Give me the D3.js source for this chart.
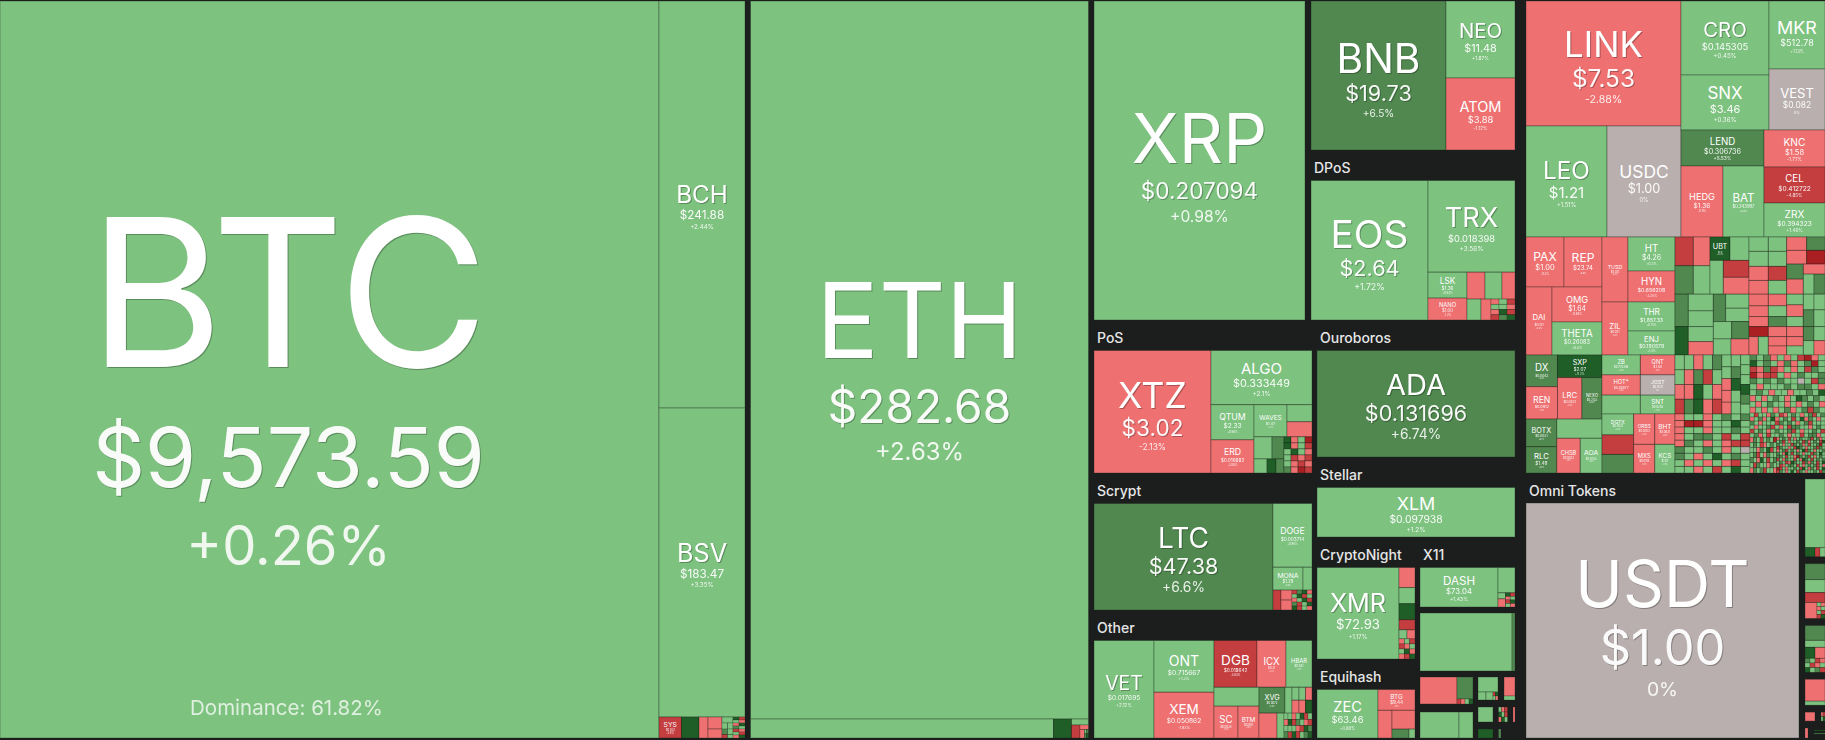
<!DOCTYPE html>
<html lang="en">
<head>
<meta charset="utf-8">
<title>Crypto market treemap</title>
<script src="https://cdn.jsdelivr.net/npm/d3@7/dist/d3.min.js"></script>
<style>
html,body{margin:0;padding:0;background:#1c1e1e;overflow:hidden}
svg{display:block}
text{font-family:"Inter","Noto Sans",sans-serif;fill:#fff;text-anchor:middle}
.title{text-anchor:start;fill:#e6e6e6;font-size:14px;font-weight:500}
.big{filter:drop-shadow(1px 1px 0 rgba(0,0,0,.28))}
</style>
</head>
<body>
<svg id="chart" width="1825" height="740"></svg>
<script>
// ---------- labelled coins ----------
const coinSymbols = ['BTC','BCH','BSV','SYS','ETH','XRP','BNB','NEO','ATOM','EOS','TRX','LSK','NANO','XTZ','ALGO','QTUM','WAVES','ERD','ADA','XLM','LTC','DOGE','MONA','XMR','DASH','ZEC','BTG','VET','ONT','XEM','DGB','ICX','HBAR','SC','BTM','XVG','LINK','CRO','MKR','SNX','VEST','LEO','USDC','LEND','KNC','CEL','HEDG','BAT','ZRX','PAX','REP','TUSD','DAI','OMG','THETA','ZIL','HT','HYN','THR','ENJ','UBT','DX','SXP','REN','LRC','NEXO','BOTX','RLC','CHSB','AOA','ZB','QNT','HOT*','JOST','SNT','DGTX','ORBS','BHT','MXS','KCS','USDT'];
const coinPrices = [9573.59,241.88,183.47,0.031,282.68,0.207094,19.73,11.48,3.88,2.64,0.018398,1.36,1.00,3.02,0.333449,2.33,1.47,0.016882,0.131696,0.097938,47.38,0.003714,1.29,72.93,73.04,63.46,9.44,0.017695,0.715667,0.050862,0.018642,0.31,0.041,0.0034,0.091,0.0072,7.53,0.145305,512.78,3.46,0.082,1.21,1.00,0.306736,1.58,0.412722,1.36,0.243997,0.394323,1.00,23.74,1.00,1.01,1.64,0.26083,0.021,4.26,0.656208,1857.33,0.190579,0.31,0.0042,2.07,0.0912,0.0421,0.2133,0.0031,1.49,0.0922,0.0143,0.774358,7.48,0.00077,0.0311,0.0293,0.0521,0.0203,0.0631,0.0118,1.07,1.00];
const coinChanges = [0.26,2.44,3.35,-4.6,2.63,0.98,6.5,1.87,-1.12,1.72,3.56,0.94,-1.2,-2.13,2.1,0.98,1.4,-3.08,6.74,1.2,6.6,0.96,0.8,1.17,1.43,0.88,-1.5,2.12,1.3,-1.93,-4.84,-2.2,1.1,-1.9,-1.4,5.8,-2.88,0.45,1.13,0.36,0,1.51,0,5.53,-1.77,-4.85,-0.9,0.8,1.46,-0.3,-0.6,-0.4,-0.2,-0.68,0.8,-1.6,0.2,-3.25,0.75,1.4,12.4,6.1,11.2,-1.5,-2.3,6.3,6.2,5.8,-1.9,1.3,1.2,-1.1,-1.4,0,1.1,1.6,-2.4,-2.6,-1.3,1.5,0];

// change stored for cells too small to carry a label, by colour reading
const cellChanges = {x:-8, r:-5, p:-2, n:0, g:1, m:6, d:11};
const changeBreaks = [-6,-4,-0.001,0.001,5,9];
const changeColors = ['#a91f22','#c43d3f','#ee7071','#b9afae','#7dc27f','#50884f','#1f5e27'];

// ---------- label type sizes [symbol, price, change] ----------
const labelSizes = {BTC:[212,87.7,59],BCH:[25,12.5,6.8],BSV:[26,12.5,6.8],SYS:[7,3,3],ETH:[107,49,26],XRP:[71,24,17],BNB:[42,23,11],NEO:[21,11.5,5.3],ATOM:[15,10,5],EOS:[40,23,9.5],TRX:[28,10,7],LSK:[8.5,5,3],NANO:[6,4.5,3],XTZ:[37,24,9],ALGO:[15.5,11.5,7],QTUM:[9,7,3],WAVES:[6.6,4,2],ERD:[9,5,3],ADA:[30,23,15],XLM:[18.5,11,7],LTC:[29,23,15],DOGE:[9,5,3],MONA:[7,4.5,2],XMR:[26,14,6.3],DASH:[12,8.3,5.5],ZEC:[15,10,4.5],BTG:[6.5,5,2],VET:[20,7,5],ONT:[14.5,7,4],XEM:[14,7,4],DGB:[14,5,3],ICX:[10,3,2],HBAR:[6,3,2],SC:[10,3,2],BTM:[6.5,3,2],XVG:[7.5,3,2],LINK:[36,26,11.5],CRO:[21,10,6.7],MKR:[18.5,9.6,4.5],SNX:[17.5,11.7,6.7],VEST:[13.5,9,4],LEO:[25,16,6.2],USDC:[18,13.5,6],LEND:[10,7.6,5.3],KNC:[10.5,8,5],CEL:[10,7,5],HEDG:[9.5,7,3],BAT:[12,4.5,2.5],ZRX:[10.5,7,5],PAX:[12.5,8,3],REP:[12.5,6.5,2.5],TUSD:[5.5,3.5,2],DAI:[8,4,2.5],OMG:[9.5,7.3,3],THETA:[10,6,3.5],ZIL:[8,3,2],HT:[10,7.4,3.5],HYN:[10,5.7,3.5],THR:[8.5,5.5,3],ENJ:[8,5.5,3],UBT:[7.5,2,2],DX:[10,3.5,2],SXP:[7.5,5,3],REN:[9,4,2],LRC:[8,3.5,2],NEXO:[4.5,3,2],BOTX:[7.5,3.5,2],RLC:[8,5,2],CHSB:[5.8,3,2],AOA:[7,3,2],ZB:[6,3,2],QNT:[5.8,3.5,2],'HOT*':[6,3.5,2],JOST:[5.4,3,2],SNT:[6.5,3,2],DGTX:[5.2,3,2],ORBS:[5,3,2],BHT:[6.7,3,2],MXS:[6,3,2],KCS:[6.5,3,2],USDT:[66,52,21]};
const typeScale = [0.97,0.94,0.92];
const labelShift = {BTC:-41};

// ---------- nesting of the market, as relative shares ----------
// H/V = side by side / stacked (number = gap); T = titled group; R/C = rows/columns of small coins
const sha256Block = ['H',750.5,['BTC',659],['V',86,['BCH',407],['BSV',309],['H',21,['SYS',22.5],['d',17.5],['p',9],['V',14,['p',12],['p',9]],['V',11,['g',6],['H',6,['g',1],['g',1]],['H',5.5,['m',1],['g',1]],['H',3.5,['r',1],['g',1]]],['R',12,'dr','gp','pd','mg','rp','gr','pd']]]];
const ethashBlock = ['V',343.5,['ETH',718],['H',19,['g',303],['d',18],['V',17,['g',6],['H',13,['r',8.5],['V',8.5,['p',4.5],['H',8.5,['p',4.5],['R',4,'gm','md']]]]]]];

const dposBlock = ['H',1,['EOS',117],['V',87,['TRX',92],['H',48,['V',39,['LSK',26],['NANO',22]],['V',48,['H',27,['p',18],['g',17],['p',13]],['H',21,['g',14],['p',10],['R',24,'pgr','ggp','pdr','rmd']]]]]];
const topLeftBlock = ['H6',319,['XRP',217],['V',210,['H',149,['BNB',135],['V',69,['NEO',77],['ATOM',72]]],['T','DPoS',170,dposBlock]]];

const posBlock = ['H',1,['XTZ',117],['V',101,['ALGO',54],['H',68,['V',43,['QTUM',35],['ERD',33]],['V',58,['H',32,['WAVES',33],['V',25,['g',17],['p',15]]],['H',36,['V',30,['H',22,['g',18],['m',12]],['H',14,['g',13],['d',9],['m',8]]],['R',28,'dpgx','dpgr','gdgp','grpr','gprp','mpxr']]]]]];
const scryptBlock = ['H',1,['LTC',179],['V',39,['DOGE',64],['H',23,['MONA',30],['g',9]],['H',20,['r',8],['V',11,['p',1],['p',1]],['R',20,'rmdp','gdrg','pgdr','mrgd','drgp']]]];
const otherBlock = ['H',1,['VET',60],['V',60,['ONT',52],['XEM',46]],['V',98,['H',47,['DGB',43],['ICX',29],['HBAR',26]],['H',51,['V',45,['g',19],['H',32,['SC',24],['BTM',21]]],['V',53,['H',26,['XVG',26],['g',7],['V',7,['g',1],['p',1]],['V',13,['H',1,['g',1],['p',1]],['H',1,['p',1],['d',1]]]],['H',25,['p',18],['g',7],['C',28,'gpgm','gdgr','prgd','gmpr','dgrg','rpdm','grmd']]]]]];
const leftColumn = ['V',223,['T','PoS',153,posBlock],['T','Scrypt',137,scryptBlock],['T','Other',128,otherBlock]];

const cryptoNightBlock = ['H',1,['XMR',82],['V',16,['p',20],['g',16],['d',16],['r',10],['H',9,['g',1],['p',1]],['R',20,'pgr','rpg','gdp','prd']]];
const equihashBlock = ['H',1,['ZEC',61],['V',37,['BTG',21],['H',28,['p',14],['V',23,['p',19],['H',9,['m',17],['g',6]]]]]];
const x11Block = ['H',1,['DASH',78],['V',17,['g',25],['H',14,['V',7.5,['g',6],['p',8]],['R',9.5,'dr','pg','rd','gp']]]];
const lowerRightBlock = ['H5',67,['V8',58,['H',35,['p',37],['V',16,['m',22],['R',5,'rpgd']]],['H',34,['g',39],['g',14]]],['V7',42,['H6',30,['V',26,['g',15],['H',8,['g',8],['g',7],['R',5,'rd','gp']]],['V',17,['p',19],['g',4]]],['H5.5',22,['g',20.5],['R',14.5,'gpr','dgr','pdg'],['p',7.5]],['H5.5',16,['d',20.5],['m',8],['k',14]]]];
const midColumn = ['V',203,['T','Ouroboros',137,['ADA',1]],['T','Stellar',80,['XLM',1]],['H5',201,['V',103,['T','CryptoNight',122,cryptoNightBlock],['T','Equihash',79,equihashBlock]],['V6',100,['T','X11',76,x11Block],['H',64,['g',92],['m',3]],lowerRightBlock]]];

const erc20Top = ['H',236,['V',155,['LINK',125],['H',111,['LEO',81],['USDC',74]]],['V',144,['H',129,['V',88,['CRO',74],['SNX',55]],['V',56,['MKR',68],['VEST',61]]],['H',107,['V',83,['LEND',36],['H',71,['HEDG',42],['BAT',41]]],['V',61,['KNC',37],['CEL',36],['ZRX',34]]]]];

const midCapsA = ['V',74,['H',171,['V',105,['H',86,['r',55],['p',50]],['H',85,['m',55],['g',50]]],['V',117,['H',70,['UBT',60],['g',57]],['H',101,['g',40],['V',77,['r',1],['p',1]]]]],['H',182,['V',40,['m',97],['d',85]],['V',75,['g',50],['g',47],['g',45],['p',40]],['V',107,['H',82,['m',37],['V',70,['g',42],['g',40]]],['H',52,['g',55],['m',52]],['H',48,['g',53],['p',54]]]]];
const midCapsB = ['H',76,['V',113,['H',43,['g',58],['g',55]],['H',45,['g',58],['g',55]],['H',42,['p',58],['r',55]],['H',41,['p',58],['g',55]],['H',35,['p',58],['p',55]],['H',32,['p',58],['g',55]],['H',30,['p',58],['m',55]],['H',30,['x',58],['p',55]],['H',55,['H',58,['p',28],['g',30]],['V',55,['p',28],['p',27]]]],['V',115,['H',40,['p',60],['m',55]],['H',41,['p',60],['x',55]],['H',90,['V',50,['m',45],['p',45]],['V',65,['p',30],['H',60,['g',32],['m',33]]]],['H',182,['V',50,['g',32],['p',35],['g',30],['p',30],['p',28],['g',27]],['V',32,['g',47],['m',50],['m',42],['g',43]],['V',33,['g',47],['g',50],['g',42],['p',43]]]]];
const erc20Mid = ['H',118,['V',76,['H',50,['PAX',38],['REP',38]],['H',68,['DAI',26],['V',50,['OMG',35],['THETA',33]]]],['V',26,['TUSD',65],['ZIL',53]],['V',47,['HT',34],['HYN',31],['THR',29],['ENJ',24]],['H',150,midCapsA,midCapsB]];

const smallCapsM1 = ['C',175,'ggpr','gppm','pmdd','grgp','mgpr','ggppp','gmdgg','gggdmg'];
const smallCapsM2 = ['R',175,'pggpgmgm','pxxpggdg','pggpggmg','pgmmgrgr','pmgpgprr','mggmgpgn','mgpgdgmg','gpgpgprg','ggpgrgdg'];
const smallCapsN1 = ['R',172,'mgmpgpgrxpg','dgmgpmpgmxg','rpmrpgpgrmg','xprrgpgmggm','mgmgmggngrm','gpgggmgmmgp','gmgpggpggmgd','pgpgmgpgdmgmg','gpgmggpgpgmgp','pgpgpgmpgmrmg'];
const smallCapsN2a = ['R',72,
 'grggpmgrpgmgpgmrgm','pgmpgdpgmgrgdpmgpg','mgpgggrmgmgpgmrggg','gpggmrgpgrmmggpgmg',
 'rgmgpgmggmrgpggmgr','gmpgrggmgpggrgmmpg'];
const smallCapsN2b = ['R',80,'pmgrgmgx','gmgrpgmg','ggpmgdrg','gmrgpmgg','mgpdgrgm','grmggpmg','pmgmrggp'];
const smallCapsN2c = ['R',145,
 'pgmgrgpgmggmrgmpg','gmrgpggmgrmpgmgrd','mgpggrmgmpgrggmxg','rmggpgrdmgpggmrmg',
 'pgmrgmgpgdrmgpggm','mgpdgrgmgpggrmgdg','mmgrggpxmgmrgpgmg','rgpmggrgpdmgrgmgm',
 'gmgrpdmggrmpmgrgd','grpgmmgrgpgmgmrgp','xrgpggmgrdgpmgrgd','rmgpgdgrmgpggmgrm'];
const smallCapsN2 = ['V',178,smallCapsN2a,['H',106,smallCapsN2b,smallCapsN2c]];
const smallCapsBand = ['H',150,['V',75,smallCapsM1,smallCapsM2],['V',75,smallCapsN1,smallCapsN2]];

const erc20Low = ['H',118,['V',76,['H',190,['V',94,['DX',94],['REN',96]],['V',133,['SXP',67],['H',123,['LRC',73],['NEXO',60]]]],['H',160,['V',92,['BOTX',82],['RLC',78]],['V',135,['g',57],['H',103,['CHSB',70],['AOA',65]]]]],['V',73,['H',59,['ZB',114],['QNT',103]],['H',60,['HOT*',114],['JOST',103]],['H',56,['g',114],['SNT',103]],['H',175,['V',94,['DGTX',62],['r',58],['m',55]],['V',123,['H',90,['ORBS',63],['BHT',60]],['H',85,['MXS',63],['KCS',60]]]]],smallCapsBand];

const omniSideColumn = ['V7',26,['V',85,['g',69],['H',9,['d',10],['r',5],['g',5]]],['V',62,['m',16],['g',13],['r',10],['H',16,['p',12],['R',8,'gp','pg','gr','rd']]],['V',54,['m',15],['g',7],['H',11,['d',10],['p',10]],['R',14,'mgrp','grpg','dgmr']],['V',33,['p',22],['g',4]],['H6',16,['p',16],['R',10,'pr','gd']],['H6',17,['p',9],['V',17,['k',2],['d',1],['k',2],['m',1],['k',4]]]];
const rightColumn = ['V6',310,['V',478,erc20Top,erc20Mid,erc20Low],['H6',265,['T','Omni Tokens',279,['USDT',1],24],omniSideColumn]];

const restBlock = ['H11',736.5,['V',432,topLeftBlock,['H5',418,leftColumn,midColumn]],rightColumn];
const marketLayout = ['H5.5',1,sha256Block,ethashBlock,restBlock];

const dominanceText = 'Dominance: 61.82%';

// ---------- expansion into a d3 hierarchy ----------
function expand(s){
  const head = s[0];
  if(head==='T') return {w:s[2],title:s[1],padTop:s[4]===undefined?30.5:s[4],dir:'H',gap:0,children:[expand(s[3])]};
  if(head==='R'||head==='C'){
    const outer = head==='R'?'V':'H', inner = head==='R'?'H':'V';
    return {w:s[1],dir:outer,gap:0,children:s.slice(2).map(line=>({w:1,dir:inner,gap:0,children:Array.from(line,c=>({w:1,code:c}))}))};
  }
  const m = /^([HV])([\d.]*)$/.exec(head);
  if(m) return {w:s[1],dir:m[1],gap:+m[2]||0,children:s.slice(2).map(expand)};
  return {w:s[1],code:head};
}
function assignValues(n,v){
  if(!n.children){n.value=v;return;}
  const t = d3.sum(n.children,c=>c.w);
  n.children.forEach(c=>assignValues(c,v*c.w/t));
}
const rootData = expand(marketLayout);
assignValues(rootData,1e6);

const tile = (node,x0,y0,x1,y1)=> (node.data.dir==='H'?d3.treemapDice:d3.treemapSlice)(node,x0,y0,x1,y1);
const root = d3.treemap().size([1825,737]).tile(tile)
  .paddingInner(n=>n.data.gap||0)
  .paddingTop(n=>n.data.padTop||0)
  (d3.hierarchy(rootData).sum(d=>d.children?0:d.value));

const colorOf = d3.scaleThreshold().domain(changeBreaks).range(changeColors);
const coinIndex = new Map(coinSymbols.map((s,i)=>[s,i]));
const fmtPrice = p=> p>=1 ? d3.format('$,.2f')(p) : d3.format('$,.6~f')(p);
const fmtChange = c=> c===0 ? '0%' : (c>0?'+':'')+c+'%';
const leaves = root.leaves().filter(n=>n.data.code!=='k').map(n=>{
  const i = coinIndex.get(n.data.code);
  return {n,sym:i===undefined?null:coinSymbols[i],price:i===undefined?null:coinPrices[i],
          change:i===undefined?cellChanges[n.data.code]:coinChanges[i]};
});

const svg = d3.select('#chart');
const g = svg.append('g').attr('transform','translate(0,1)');

g.selectAll('rect.cell').data(leaves).join('rect').attr('class','cell')
  .attr('x',d=>d.n.x0).attr('y',d=>d.n.y0)
  .attr('width',d=>Math.max(0,d.n.x1-d.n.x0)).attr('height',d=>Math.max(0,d.n.y1-d.n.y0))
  .attr('fill',d=>colorOf(d.change))
  .attr('stroke','rgba(20,30,20,.33)')
  .attr('stroke-width',d=>Math.min(d.n.x1-d.n.x0,d.n.y1-d.n.y0)<6?.7:1);

g.selectAll('text.title').data(root.descendants().filter(n=>n.data.title)).join('text')
  .attr('class','title').attr('x',n=>n.x0+3).attr('y',n=>n.y0+n.data.padTop-7.5).text(n=>n.data.title);

const labelled = leaves.filter(d=>d.sym);
const lay = d=>{
  const [s0,p0,c0]=labelSizes[d.sym];
  const s=s0*typeScale[0], p=p0*typeScale[1], c=c0*typeScale[2];
  const gapY=s0*.07, total=s0+p0+c0+2*gapY;
  const cx=(d.n.x0+d.n.x1)/2+(labelShift[d.sym]||0);
  const top=(d.n.y0+d.n.y1)/2-total/2+total*.03;
  return {s,p,c,cx,sy:top+s0/2+.36*s,py:top+s0+gapY+p0/2+.36*p,cy:top+s0+p0+2*gapY+c0/2+.36*c};
};
g.selectAll('text.sym').data(labelled).join('text')
  .attr('class',d=>'sym'+(labelSizes[d.sym][0]>=20?' big':''))
  .attr('x',d=>lay(d).cx).attr('y',d=>lay(d).sy).attr('font-size',d=>lay(d).s).text(d=>d.sym);
g.selectAll('text.price').data(labelled).join('text')
  .attr('class',d=>'price'+(labelSizes[d.sym][1]>=20?' big':''))
  .attr('x',d=>lay(d).cx).attr('y',d=>lay(d).py).attr('font-size',d=>lay(d).p).attr('opacity',.95).text(d=>fmtPrice(d.price));
g.selectAll('text.chg').data(labelled).join('text')
  .attr('class','chg')
  .attr('x',d=>lay(d).cx).attr('y',d=>lay(d).cy).attr('font-size',d=>lay(d).c).attr('opacity',.88).text(d=>fmtChange(d.change));

const btcCell = labelled.find(d=>d.sym==='BTC');
g.append('text').attr('x',lay(btcCell).cx-2).attr('y',btcCell.n.y1-23).attr('font-size',20.5).attr('opacity',.75).text(dominanceText);
</script>
</body>
</html>
